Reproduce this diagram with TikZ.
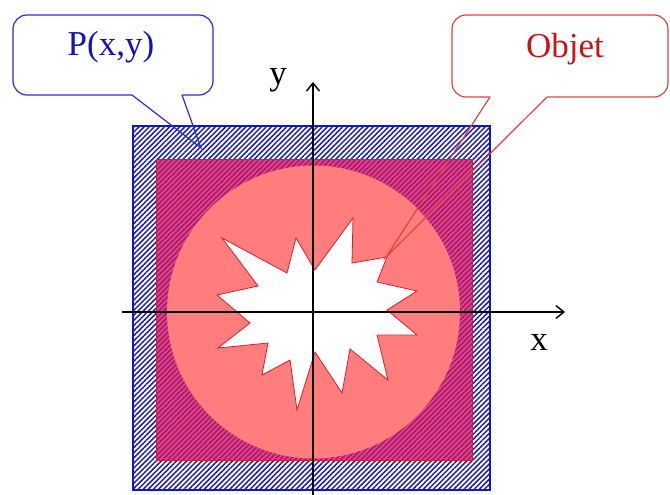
\documentclass[tikz,border=0pt]{standalone}
\usepackage{fontspec}
\setmainfont{Liberation Serif}
\usetikzlibrary{patterns.meta,arrows.meta}
\definecolor{hatchblue}{RGB}{30,30,175}
\definecolor{borderblue}{RGB}{20,20,200}
\definecolor{innerred}{RGB}{238,62,130}
\definecolor{innerdark}{RGB}{145,30,115}
\definecolor{salmon}{RGB}{255,125,125}
\definecolor{starred}{RGB}{215,30,45}
\definecolor{pblue}{RGB}{45,45,205}
\definecolor{ptext}{RGB}{20,20,180}
\definecolor{ored}{RGB}{220,70,70}
\definecolor{otext}{RGB}{200,20,25}
\begin{document}
\begin{tikzpicture}[x=1pt,y=-1pt,
  lbl/.style={font=\fontsize{35}{38}\selectfont, inner sep=0pt},
  axis/.style={black, line width=1.4pt, -{Straight Barb[length=8pt,width=13pt,line width=1.4pt]}},
  callp/.style={pblue, line width=1.2pt},
  callo/.style={ored, line width=1.2pt}]
\useasboundingbox (0,0) rectangle (670,495);
% outer hatched square
\coordinate (O1) at (133,126);
\coordinate (O2) at (490,490);
\fill[white] (O1) rectangle (O2);
\pattern[pattern={Lines[angle=45,distance=3.6pt,line width=1.5pt]},pattern color=hatchblue] (O1) rectangle (O2);
\draw[borderblue, line width=1.5pt] (O1) rectangle (O2);
% inner red hatched rectangle
\coordinate (I1) at (156,159);
\coordinate (I2) at (472,460);
\fill[innerred] (I1) rectangle (I2);
\pattern[pattern={Lines[angle=45,distance=3.6pt,line width=1.4pt]},pattern color=innerdark] (I1) rectangle (I2);
\draw[starred, line width=0.8pt] (I1) rectangle (I2);
% disc
\fill[salmon] (313.5,312) circle (146.5);
% star
\draw[starred, fill=white, line width=0.8pt, line join=miter]
 (222,238) -- (287,273) -- (296,238) -- (315,270) -- (353,218) -- (352,263)
 -- (387,257) -- (377,282) -- (417,291) -- (387,310) -- (417,335) -- (377,335)
 -- (388,380) -- (350,349) -- (342,393) -- (315,352) -- (297,410) -- (290,360)
 -- (262,375) -- (268,343) -- (218,348) -- (250,323) -- (217,295) -- (258,286) -- cycle;
% axes
\coordinate (xs) at (122,312);
\coordinate (xe) at (565,312);
\coordinate (ys) at (313,497);
\coordinate (ye) at (313,82);
\draw[axis] (xs) -- (xe);
\draw[axis] (ys) -- (ye);
\node[lbl] (ylab) at (278,80) {y};
\node[lbl] (xlab) at (539,342) {x};
% callout P(x,y)
\coordinate (pa) at (132,95);
\coordinate (pb) at (182,95);
\coordinate (ptip) at (201,148);
\draw[callp, rounded corners=14pt] (pb) -- (213,95) -- (213,15) -- (13,15) -- (13,95) -- (pa);
\draw[callp, line join=miter] (pa) -- (ptip) -- (pb);
\node[lbl, text=ptext] (plabel) at (111,47) {P(x,y)};
% callout Objet
\coordinate (oa) at (490,97);
\coordinate (ob) at (547,97);
\coordinate (otip) at (386,257);
\draw[callo, rounded corners=14pt] (ob) -- (668,97) -- (668,15) -- (452,15) -- (452,97) -- (oa);
\draw[callo, line join=miter] (oa) -- (otip) -- (ob);
\node[lbl, text=otext] (olabel) at (565,49) {Objet};
\end{tikzpicture}
\end{document}
